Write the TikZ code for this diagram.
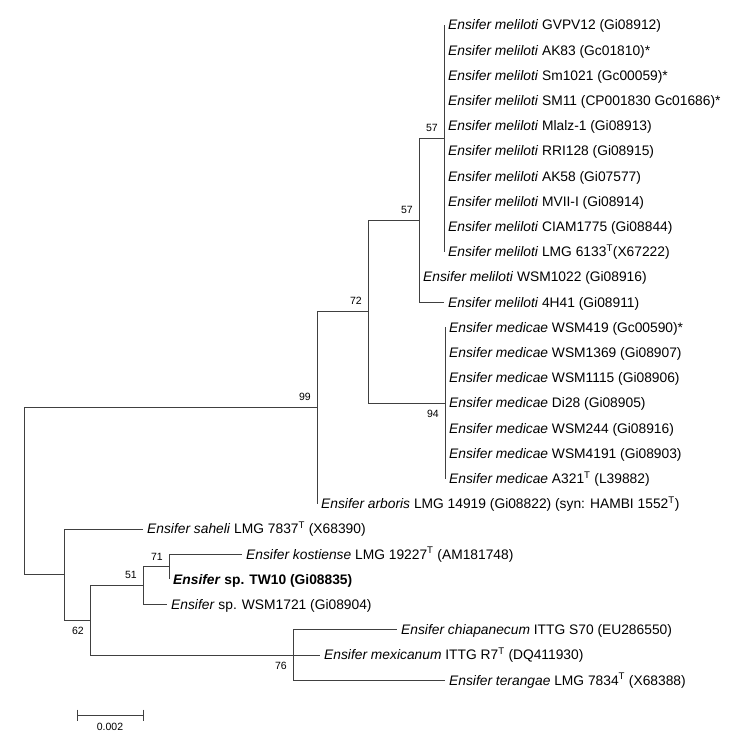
\documentclass[tikz,border=0pt]{standalone}
\usepackage{fontspec}
\setmainfont{Liberation Sans}
\newcommand{\taxfont}{\fontsize{13.8pt}{16pt}\selectfont}
\newcommand{\bsfont}{\fontsize{10.5pt}{12pt}\selectfont}
\newcommand{\Ens}[1]{\textit{Ensifer #1}}

\begin{document}
\begin{tikzpicture}[x=1pt, y=-1pt, line join=miter,
    br/.style={line width=1pt, black!75},
    taxon/.style={anchor=west, inner xsep=4pt, inner ysep=0pt, text height=9.9pt, text depth=0pt, font=\taxfont},
    bsup/.style={anchor=south east, inner sep=0pt, xshift=-6pt, yshift=6.5pt, font=\bsfont},
    bsdown/.style={anchor=north east, inner sep=0pt, xshift=-6pt, yshift=-6.5pt, font=\bsfont}]
    \useasboundingbox (0,0) rectangle (750,745);
    % taxa, 25.2pt apart
    \foreach \i/\x/\txt in {
        1/444/{\Ens{meliloti} GVPV12 (Gi08912)},
        2/444/{\Ens{meliloti} AK83 (Gc01810)*},
        3/444/{\Ens{meliloti} Sm1021 (Gc00059)*},
        4/444/{\Ens{meliloti} SM11 (CP001830 Gc01686)*},
        5/444/{\Ens{meliloti} Mlalz-1 (Gi08913)},
        6/444/{\Ens{meliloti} RRI128 (Gi08915)},
        7/444/{\Ens{meliloti} AK58 (Gi07577)},
        8/444/{\Ens{meliloti} MVII-I (Gi08914)},
        9/444/{\Ens{meliloti} CIAM1775 (Gi08844)},
        10/444/{\Ens{meliloti} LMG 6133\textsuperscript{T}(X67222)},
        11/419/{\Ens{meliloti} WSM1022 (Gi08916)},
        12/444/{\Ens{meliloti} 4H41 (Gi08911)},
        13/445/{\Ens{medicae} WSM419 (Gc00590)*},
        14/445/{\Ens{medicae} WSM1369 (Gi08907)},
        15/445/{\Ens{medicae} WSM1115 (Gi08906)},
        16/445/{\Ens{medicae} Di28 (Gi08905)},
        17/445/{\Ens{medicae} WSM244 (Gi08916)},
        18/445/{\Ens{medicae} WSM4191 (Gi08903)},
        19/445/{\Ens{medicae} A321\textsuperscript{T} (L39882)},
        20/317/{\Ens{arboris} LMG 14919 (Gi08822) (syn: HAMBI 1552\textsuperscript{T})},
        21/143/{\Ens{saheli} LMG 7837\textsuperscript{T} (X68390)},
        22/242/{\Ens{kostiense} LMG 19227\textsuperscript{T} (AM181748)},
        23/169/{\textbf{\textit{Ensifer} sp. TW10 (Gi08835)}},
        24/167/{\textit{Ensifer} sp. WSM1721 (Gi08904)},
        25/397/{\Ens{chiapanecum} ITTG S70 (EU286550)},
        26/320/{\Ens{mexicanum} ITTG R7\textsuperscript{T} (DQ411930)},
        27/445/{\Ens{terangae} LMG 7834\textsuperscript{T} (X68388)}}
        \node[taxon] (t\i) at (\x,{25+25.2*(\i-1)}) {\txt};
    % internal nodes
    \coordinate (n57b) at (444,138.5);
    \coordinate (n57a) at (419,220);
    \coordinate (n94) at (445,403);
    \coordinate (n72) at (368,311.5);
    \coordinate (n99) at (317,407.6);
    \coordinate (n71) at (169,566.8);
    \coordinate (n51) at (143,585.7);
    \coordinate (n76) at (293,655.1);
    \coordinate (n62) at (90,620.4);
    \coordinate (nsah) at (64,574.7);
    \coordinate (root) at (24,491);
    % branches
    \foreach \i in {1,...,10}
        \draw[br] (n57b) |- (t\i.west);
    \foreach \i in {13,...,19}
        \draw[br] (n94) |- (t\i.west);
    \foreach \c in {n57b,t11.west,t12.west}
        \draw[br] (n57a) |- (\c);
    \foreach \c in {n57a,n94}
        \draw[br] (n72) |- (\c);
    \foreach \c in {n72,t20.west}
        \draw[br] (n99) |- (\c);
    \foreach \c in {n99,nsah}
        \draw[br] (root) |- (\c);
    \foreach \c in {t21.west,n62}
        \draw[br] (nsah) |- (\c);
    \foreach \c in {n51,n76}
        \draw[br] (n62) |- (\c);
    \foreach \c in {n71,t24.west}
        \draw[br] (n51) |- (\c);
    \foreach \c in {t22.west,t23.west}
        \draw[br] (n71) |- (\c);
    \foreach \c in {t25.west,t26.west,t27.west}
        \draw[br] (n76) |- (\c);
    % bootstrap values
    \node[bsup] (b57b) at (n57b) {57};
    \node[bsup] (b57a) at (n57a) {57};
    \node[bsup] (b72) at (n72) {72};
    \node[bsup] (b99) at (n99) {99};
    \node[bsup] (b71) at (n71) {71};
    \node[bsup] (b51) at (n51) {51};
    \node[bsdown] (b94) at (n94) {94};
    \node[bsdown] (b62) at (n62) {62};
    \node[bsdown] (b76) at (n76) {76};
    % scale bar
    \coordinate (sb1) at (77,715);
    \coordinate (sb2) at (143,715);
    \draw[br] (sb1) -- (sb2);
    \draw[br] ([yshift=5.5pt]sb1) -- ([yshift=-5.5pt]sb1);
    \draw[br] ([yshift=5.5pt]sb2) -- ([yshift=-5.5pt]sb2);
    \node[font=\bsfont, anchor=north, inner sep=0pt] (sblab) at (110,723) {0.002};
\end{tikzpicture}
\end{document}
